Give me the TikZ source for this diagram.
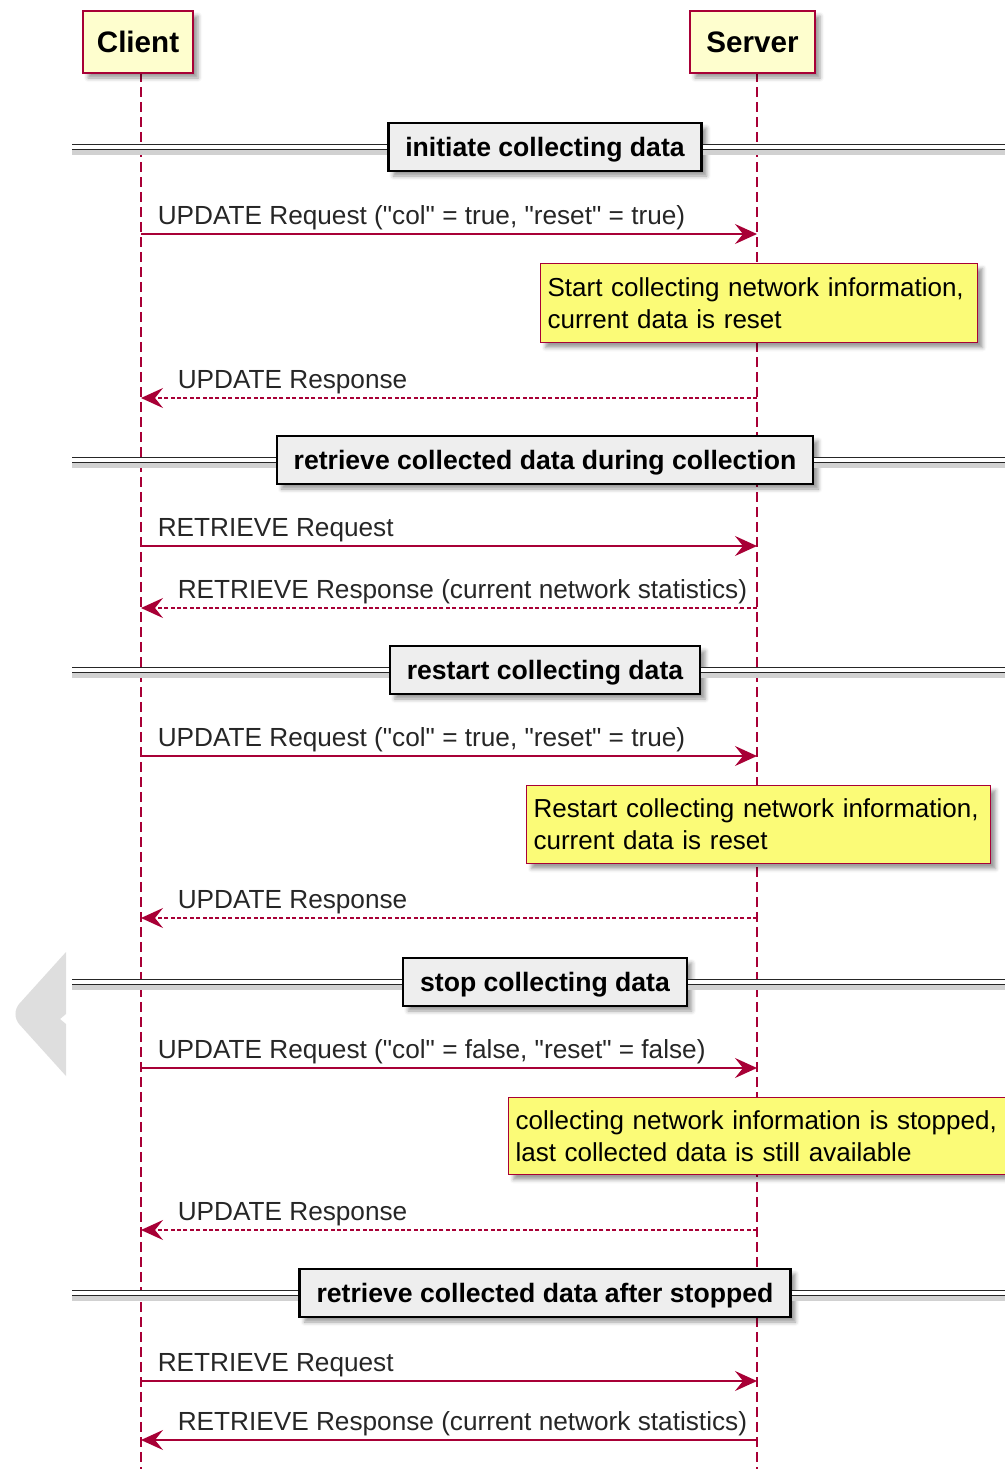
\documentclass[tikz,border=0pt]{standalone}
\usepackage{fontspec}
\setmainfont{Liberation Sans}[Ligatures=TeXOff]
\usepackage{xcolor}
\usetikzlibrary{arrows.meta,shadows.blur}

\definecolor{umlred}{HTML}{A80036}
\definecolor{umlbeige}{HTML}{FEFECE}
\definecolor{notefill}{HTML}{FBFB77}
\definecolor{sepfill}{HTML}{EEEEEE}

\begin{document}
\begin{tikzpicture}[
  x=0.5pt,y=-0.5pt,
  font=\fontsize{13.1}{16}\selectfont,
  shade/.style={blur shadow={shadow xshift=2.5pt,shadow yshift=-2.5pt,shadow blur radius=2pt,shadow opacity=40}},
  part/.style={rectangle,draw=umlred,fill=umlbeige,line width=1pt,minimum height=31pt,inner sep=0pt,font=\fontsize{14.8}{18}\selectfont\bfseries,shade},
  life/.style={draw=umlred,line width=0.75pt,dash pattern=on 5pt off 2.5pt},
  grp/.style={rectangle,draw=black,fill=sepfill,line width=1.2pt,minimum height=24pt,inner xsep=8.5pt,text depth=0pt,font=\fontsize{13.3}{16}\selectfont\bfseries,shade},
  dline/.style={draw=black!85,line width=0.7pt,double=white,double distance=1.6pt,preaction={draw=black!18,line width=2.4pt,transform canvas={yshift=-2.6pt}}},
  note/.style={rectangle,draw=umlred,fill=notefill,line width=0.6pt,anchor=north west,inner xsep=3.5pt,inner ysep=0pt,align=left,font=\fontsize{13}{16}\selectfont,shade},
  req/.style={draw=umlred,line width=0.75pt,-{Stealth[length=11pt,width=10pt,inset=4pt]}},
  res/.style={req,dash pattern=on 2pt off 1.2pt},
  reqlbl/.style={pos=0,anchor=base west,inner sep=0pt,xshift=8pt,yshift=4.6pt,text=black!85},
  reslbl/.style={pos=1,anchor=base west,inner sep=0pt,xshift=18pt,yshift=4.6pt,text=black!85}
]
\useasboundingbox (0,0) rectangle (1005,1469);

\fill[black!13] (66,952) [rounded corners=7pt] -- (10,1014) [sharp corners] -- (66,1076) -- (66,1024) -- (60,1019) -- (66,1014) -- cycle;

\coordinate (cl) at (141,72);
\coordinate (sv) at (757,72);
\coordinate (L) at (72,0);
\coordinate (R) at (1012,0);

\draw[life] (cl) -- (cl |- 0,1469);
\draw[life] (sv) -- (sv |- 0,1469);

\node[part,minimum width=55pt] (client) at (138,42) {Client};
\node[part,minimum width=62.5pt] (server) at (752.5,42) {Server};

\node[grp] (g1) at (545,147) {initiate collecting data};
\draw[dline] (g1.west -| L) -- (g1.west);
\draw[dline] (g1.east) -- (g1.east -| R);

\draw[req] (cl |- 0,234) -- (sv |- 0,234) node[reqlbl] {UPDATE Request ("col" = true, "reset" = true)};
\node[note,text width=211.5pt,minimum height=39.5pt] (n1) at (540,263) {Start collecting network information,\\current data is reset};
\draw[res] (sv |- 0,398) -- (cl |- 0,398) node[reslbl] {UPDATE Response};

\node[grp] (g2) at (545,460) {retrieve collected data during collection};
\draw[dline] (g2.west -| L) -- (g2.west);
\draw[dline] (g2.east) -- (g2.east -| R);

\draw[req] (cl |- 0,546) -- (sv |- 0,546) node[reqlbl] {RETRIEVE Request};
\draw[res] (sv |- 0,608) -- (cl |- 0,608) node[reslbl] {RETRIEVE Response (current network statistics)};

\node[grp] (g3) at (545,670) {restart collecting data};
\draw[dline] (g3.west -| L) -- (g3.west);
\draw[dline] (g3.east) -- (g3.east -| R);

\draw[req] (cl |- 0,756) -- (sv |- 0,756) node[reqlbl] {UPDATE Request ("col" = true, "reset" = true)};
\node[note,text width=225pt,minimum height=39pt] (n2) at (526,785) {Restart collecting network information,\\current data is reset};
\draw[res] (sv |- 0,918) -- (cl |- 0,918) node[reslbl] {UPDATE Response};

\node[grp] (g4) at (545,982) {stop collecting data};
\draw[dline] (g4.west -| L) -- (g4.west);
\draw[dline] (g4.east) -- (g4.east -| R);

\draw[req] (cl |- 0,1068) -- (sv |- 0,1068) node[reqlbl] {UPDATE Request ("col" = false, "reset" = false)};
\node[note,text width=248pt,minimum height=38.5pt] (n3) at (508,1097) {collecting network information is stopped,\\last collected data is still available};
\draw[res] (sv |- 0,1230) -- (cl |- 0,1230) node[reslbl] {UPDATE Response};

\node[grp] (g5) at (545,1293) {retrieve collected data after stopped};
\draw[dline] (g5.west -| L) -- (g5.west);
\draw[dline] (g5.east) -- (g5.east -| R);

\draw[req] (cl |- 0,1381) -- (sv |- 0,1381) node[reqlbl] {RETRIEVE Request};
\draw[req] (sv |- 0,1440) -- (cl |- 0,1440) node[reslbl] {RETRIEVE Response (current network statistics)};
\end{tikzpicture}
\end{document}
